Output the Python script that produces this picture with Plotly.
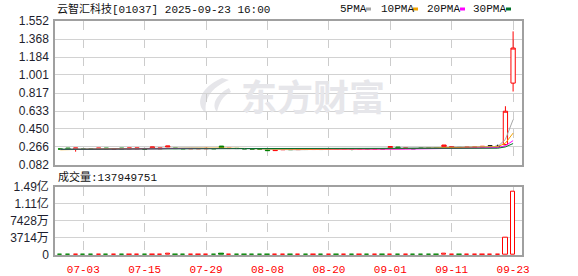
import plotly.graph_objects as go

# ---------------- data ----------------
dates = ["06-27", "06-30", "07-02", "07-03", "07-04", "07-07", "07-08", "07-09", "07-10", "07-11",
         "07-14", "07-15", "07-16", "07-17", "07-22", "07-23", "07-24", "07-25", "07-28", "07-29",
         "07-30", "07-31", "08-01", "08-04", "08-05", "08-06", "08-07", "08-08", "08-11", "08-12",
         "08-13", "08-14", "08-15", "08-18", "08-19", "08-20", "08-21", "08-22", "08-25", "08-26",
         "08-27", "08-28", "08-29", "09-01", "09-02", "09-03", "09-04", "09-05", "09-08", "09-09",
         "09-10", "09-11", "09-12", "09-15", "09-16", "09-17", "09-18", "09-19", "09-22", "09-23"]
label_dates = ["07-03", "07-15", "07-29", "08-08", "08-20", "09-01", "09-11", "09-23"]

opens = [0.246, 0.255, 0.247, 0.246, 0.246, 0.247, 0.255, 0.245, 0.255, 0.247,
         0.247, 0.246, 0.256, 0.247, 0.266, 0.256, 0.250, 0.248, 0.248, 0.248,
         0.250, 0.275, 0.250, 0.252, 0.250, 0.246, 0.243, 0.238, 0.229, 0.238,
         0.240, 0.239, 0.241, 0.240, 0.241, 0.242, 0.243, 0.242, 0.245, 0.244,
         0.246, 0.245, 0.247, 0.259, 0.265, 0.250, 0.250, 0.257, 0.257, 0.257,
         0.269, 0.262, 0.262, 0.262, 0.265, 0.265, 0.276, 0.272, 0.290, 0.918]
highs = [0.246, 0.256, 0.255, 0.246, 0.247, 0.254, 0.255, 0.246, 0.255, 0.255,
         0.255, 0.246, 0.266, 0.255, 0.276, 0.256, 0.251, 0.250, 0.250, 0.258,
         0.250, 0.276, 0.252, 0.252, 0.250, 0.246, 0.243, 0.238, 0.238, 0.241,
         0.240, 0.241, 0.241, 0.241, 0.241, 0.243, 0.243, 0.244, 0.245, 0.246,
         0.246, 0.247, 0.247, 0.270, 0.265, 0.256, 0.250, 0.257, 0.257, 0.257,
         0.286, 0.271, 0.262, 0.265, 0.266, 0.273, 0.276, 0.290, 0.682, 1.446]
lows = [0.244, 0.245, 0.218, 0.244, 0.244, 0.247, 0.247, 0.245, 0.247, 0.247,
        0.247, 0.244, 0.256, 0.247, 0.264, 0.250, 0.248, 0.248, 0.247, 0.245,
        0.248, 0.257, 0.249, 0.250, 0.246, 0.244, 0.240, 0.229, 0.229, 0.238,
        0.239, 0.239, 0.239, 0.240, 0.240, 0.242, 0.242, 0.242, 0.232, 0.244,
        0.245, 0.245, 0.246, 0.258, 0.258, 0.250, 0.248, 0.248, 0.248, 0.248,
        0.268, 0.262, 0.260, 0.262, 0.264, 0.265, 0.276, 0.266, 0.285, 0.832]
closes = [0.245, 0.247, 0.255, 0.244, 0.245, 0.254, 0.247, 0.246, 0.247, 0.255,
          0.255, 0.244, 0.265, 0.255, 0.275, 0.250, 0.248, 0.250, 0.250, 0.251,
          0.248, 0.257, 0.252, 0.250, 0.246, 0.244, 0.241, 0.229, 0.238, 0.240,
          0.239, 0.241, 0.240, 0.241, 0.240, 0.243, 0.242, 0.244, 0.244, 0.246,
          0.245, 0.247, 0.246, 0.269, 0.258, 0.256, 0.248, 0.256, 0.256, 0.256,
          0.286, 0.270, 0.260, 0.265, 0.266, 0.272, 0.276, 0.272, 0.631, 1.276]
volumes = [0, 1.2e6, 1.5e6, 1.0e6, 0.9e6, 1.3e6, 1.2e6, 0.8e6, 1.4e6, 1.3e6,
           1.2e6, 1.0e6, 1.6e6, 1.1e6, 1.8e6, 1.0e6, 0.9e6, 1.1e6, 1.0e6, 0.9e6,
           1.0e6, 2.0e6, 1.1e6, 1.0e6, 1.2e6, 1.1e6, 0.9e6, 1.5e6, 1.4e6, 1.0e6,
           0.8e6, 0.9e6, 1.0e6, 0.8e6, 0.9e6, 0.8e6, 0.9e6, 1.0e6, 0.7e6, 0.9e6,
           0.8e6, 0.9e6, 1.0e6, 1.6e6, 1.2e6, 1.0e6, 0.9e6, 1.1e6, 1.0e6, 1.2e6,
           2.0e6, 1.4e6, 0, 1.0e6, 1.1e6, 1.3e6, 1.0e6, 1.2e6, 38.7e6, 137949751]
# closes before the window (needed for the moving averages)
prior_closes = [0.248, 0.247, 0.246, 0.245, 0.246, 0.247, 0.246, 0.245, 0.244, 0.245,
                0.246, 0.245, 0.244, 0.243, 0.244, 0.245, 0.246, 0.245, 0.244,
                0.225, 0.225, 0.228, 0.230, 0.232, 0.240, 0.242, 0.244, 0.245, 0.245]

price_ticks = [0.082, 0.266, 0.450, 0.633, 0.817, 1.001, 1.184, 1.368, 1.552]
price_tick_text = ["0.082", "0.266", "0.450", "0.633", "0.817", "1.001", "1.184", "1.368", "1.552"]
vol_ticks = [0, 37140000, 74280000, 111420000, 148560000]
vol_tick_text = ["0", "3714万", "7428万", "1.11亿", "1.49亿"]

ma_periods = [5, 10, 20, 30]
ma_names = ["5PMA", "10PMA", "20PMA", "30PMA"]
ma_colors = ["#a6a6a6", "#f2a200", "#ff00ff", "#00702a"]

title_text = "云智汇科技[01037] 2025-09-23 16:00"
vol_label = "成交量:137949751"
watermark = "东方财富"

RED = "#ff0000"
GREEN = "#008000"

# ---------------- geometry ----------------
W_FIG, H_FIG = 578, 276
L, R, T, B = 55, 56, 21, 21
PW = W_FIG - L - R
PH = H_FIG - T - B


def px_x(px):
    return (px - L) / PW


def px_y(py):
    return (H_FIG - B - py) / PH


x = list(range(len(dates)))
tick_idx = [dates.index(d) for d in label_dates]

# moving averages
all_closes = prior_closes + closes
n0 = len(prior_closes)
ma_series = []
for p in ma_periods:
    vals = []
    for i in range(len(closes)):
        window = all_closes[n0 + i - p + 1: n0 + i + 1]
        vals.append(sum(window) / len(window))
    ma_series.append(vals)

up = [i for i in x if closes[i] > opens[i]]
down = [i for i in x if closes[i] < opens[i]]
flat = [i for i in x if closes[i] == opens[i]]

fig = go.Figure()


def candle(idx, line_color, fill):
    return go.Candlestick(
        x=[x[i] for i in idx],
        open=[opens[i] for i in idx], high=[highs[i] for i in idx],
        low=[lows[i] for i in idx], close=[closes[i] for i in idx],
        increasing=dict(line=dict(color=line_color, width=1), fillcolor=fill),
        decreasing=dict(line=dict(color=line_color, width=1), fillcolor=fill),
        whiskerwidth=0, xaxis="x", yaxis="y", showlegend=False, hoverinfo="skip")


fig.add_trace(candle(up, RED, "#ffffff"))
fig.add_trace(candle(down, GREEN, GREEN))
fig.add_trace(candle(flat, "#000000", "#000000"))

for name, vals, col in zip(ma_names, ma_series, ma_colors):
    fig.add_trace(go.Scatter(x=x, y=vals, mode="lines", name=name,
                             line=dict(color=col, width=1), xaxis="x", yaxis="y",
                             showlegend=False, hoverinfo="skip"))

vol_fill = [GREEN if closes[i] < opens[i] else "#ffffff" for i in x]
vol_line = [GREEN if closes[i] < opens[i] else RED for i in x]
fig.add_trace(go.Bar(x=x, y=volumes, width=0.56,
                     marker=dict(color=vol_fill, line=dict(color=vol_line, width=1)),
                     xaxis="x2", yaxis="y2", showlegend=False, hoverinfo="skip"))

x_range = [-0.69, 60.16]
axis_common = dict(showline=True, mirror=True, linecolor="#a0a0a0", linewidth=1.5,
                   zeroline=False, ticks="", automargin=False)
fig.update_layout(
    width=W_FIG, height=H_FIG,
    margin=dict(l=L, r=R, t=T, b=B, pad=0, autoexpand=False),
    paper_bgcolor="#ffffff", plot_bgcolor="#ffffff",
    showlegend=False, boxgap=0.2, boxgroupgap=0.3, bargap=0,
    xaxis=dict(domain=[0, 1], anchor="y", range=x_range, tickvals=tick_idx,
               showticklabels=False, showgrid=True, gridcolor="#cccccc",
               griddash="dash", gridwidth=1, rangeslider=dict(visible=False),
               **axis_common),
    xaxis2=dict(domain=[0, 1], anchor="y2", range=x_range, matches="x",
                tickvals=tick_idx, ticktext=label_dates, showticklabels=True,
                tickfont=dict(family="Liberation Mono, monospace", size=11, color=RED),
                showgrid=True, gridcolor="#cccccc", griddash="dash", gridwidth=1,
                ticklabelstandoff=3,
                **axis_common),
    yaxis=dict(domain=[px_y(165), 1], anchor="x", range=[price_ticks[0], price_ticks[-1]],
               tickvals=price_ticks, ticktext=price_tick_text,
               tickfont=dict(family="Liberation Sans, Arial, sans-serif", size=12, color="#1e1e2e"),
               showgrid=True, gridcolor="#d2d2d2", gridwidth=1, ticklabelstandoff=2,
               **axis_common),
    yaxis2=dict(domain=[0, px_y(186.7)], anchor="x2", range=[vol_ticks[0], vol_ticks[-1]],
                tickvals=vol_ticks, ticktext=vol_tick_text,
                tickfont=dict(family="Liberation Sans, Noto Sans CJK SC, sans-serif", size=12, color="#1e1e2e"),
                showgrid=True, gridcolor="#d2d2d2", gridwidth=1, ticklabelstandoff=2,
                **axis_common),
)

mono = "Liberation Mono, Noto Sans CJK SC, monospace"
ann = [
    dict(text=title_text, x=px_x(55), y=px_y(9), xanchor="left", yanchor="middle",
         font=dict(family=mono, size=11, color="#111111")),
    dict(text=vol_label, x=px_x(56), y=px_y(177), xanchor="left", yanchor="middle",
         font=dict(family=mono, size=11, color="#111111")),
    dict(text=watermark, x=px_x(313), y=px_y(95), xanchor="center", yanchor="middle",
         font=dict(family="Noto Sans CJK SC", size=36, color="#e6e6ea", weight="bold")),
]
legend_x = [338, 379, 425, 471]
square_x = [366, 413, 460, 506]
shapes = []
for name, col, lx, sx in zip(ma_names, ma_colors, legend_x, square_x):
    ann.append(dict(text=name, x=px_x(lx), y=px_y(9), xanchor="left", yanchor="middle",
                    font=dict(family=mono, size=11, color="#111111")))
    shapes.append(dict(type="rect", xref="paper", yref="paper",
                       x0=px_x(sx), x1=px_x(sx + 5), y0=px_y(10.5), y1=px_y(7.5),
                       fillcolor=col, line=dict(width=0)))
for a in ann:
    a.update(xref="paper", yref="paper", showarrow=False)


def pt(px, py):
    return f"{px_x(px):.5f},{px_y(py):.5f}"


icon1 = (f"M {pt(222, 78)} C {pt(199, 88)} {pt(195, 105)} {pt(206, 113)} "
         f"C {pt(204, 100)} {pt(210, 88)} {pt(229, 80)} Z")
icon2 = (f"M {pt(229, 88)} C {pt(214, 96)} {pt(212, 106)} {pt(217, 112)} "
         f"C {pt(219, 104)} {pt(222, 96)} {pt(231, 92)} Z")
for pth in (icon1, icon2):
    shapes.append(dict(type="path", path=pth, xref="paper", yref="paper",
                       fillcolor="#e6e6ea", line=dict(width=0), layer="below"))

fig.update_layout(annotations=ann, shapes=shapes)
fig.write_html("out.html")
